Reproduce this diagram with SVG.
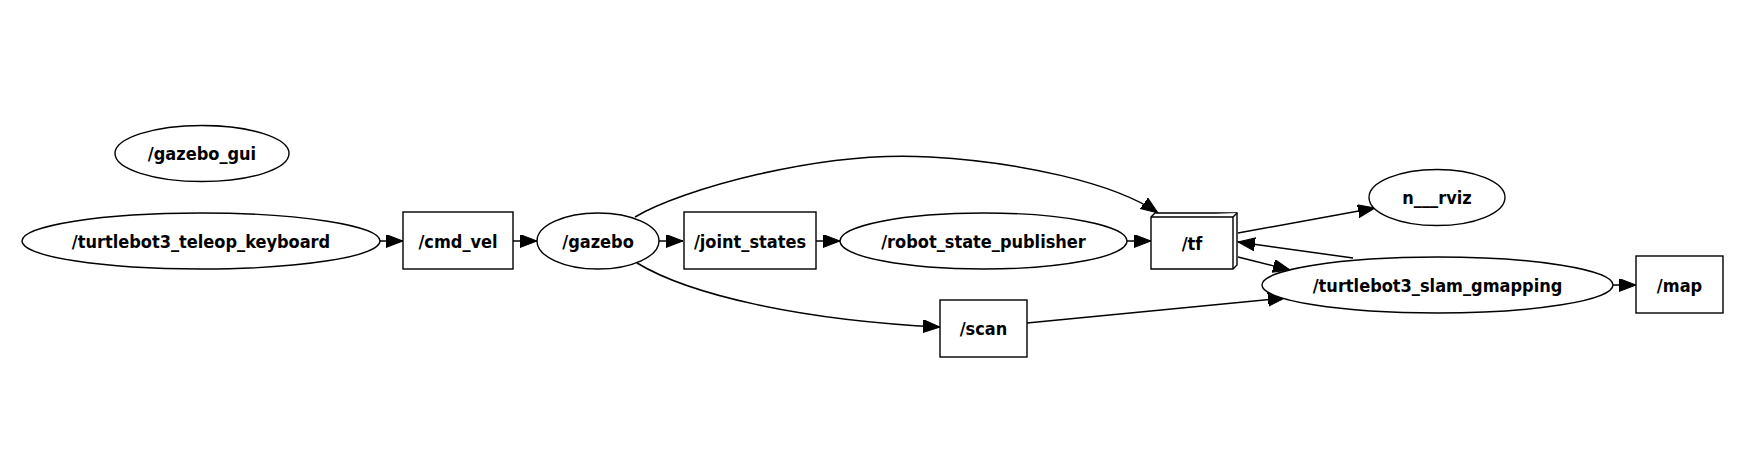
<svg xmlns="http://www.w3.org/2000/svg" width="1753" height="474" viewBox="0 0 1753 474">
<defs>
<style>
.n ellipse, .n rect, .n path { fill: #ffffff; stroke: #000000; stroke-width: 1.4; }
.n text { font-family: "DejaVu Sans", "Liberation Sans", sans-serif; font-weight: bold; font-stretch: condensed; font-size: 18px; text-anchor: middle; fill: #000000; }
.e path, .e line { fill: none; stroke: #000000; stroke-width: 1.5; marker-end: url(#ah); }
</style>
<marker id="ah" markerUnits="userSpaceOnUse" markerWidth="18" markerHeight="14" refX="17" refY="6.5" orient="auto" viewBox="0 0 18 14">
<path d="M0,0 L17,6.5 L0,13 z" fill="#000000" stroke="#000000" stroke-width="1"/>
</marker>
</defs>
<rect x="0" y="0" width="1753" height="474" fill="#ffffff"/>
<g id="edges" class="e">
<line x1="380" y1="241" x2="403" y2="241"/>
<line x1="513" y1="241" x2="537" y2="241"/>
<line x1="659" y1="241" x2="683" y2="241"/>
<line x1="816" y1="241" x2="840" y2="241"/>
<line x1="1127" y1="241" x2="1151" y2="241"/>
<path d="M635,217 C680,190 820,150 930,157 C1020,162 1115,183 1158,213"/>
<path d="M637,263 C690,295 800,320 940,327"/>
<line x1="1027" y1="323" x2="1285" y2="298"/>
<line x1="1238" y1="233" x2="1375" y2="208"/>
<line x1="1353" y1="258" x2="1238" y2="242"/>
<line x1="1238" y1="257" x2="1290" y2="270"/>
<line x1="1613" y1="285" x2="1636" y2="285"/>
</g>
<g id="gazebo_gui" class="n">
<ellipse cx="202" cy="153.5" rx="87" ry="28"/>
<text x="202" y="160">/gazebo_gui</text>
</g>
<g id="teleop" class="n">
<ellipse cx="201" cy="241" rx="179" ry="28"/>
<text x="201" y="248">/turtlebot3_teleop_keyboard</text>
</g>
<g id="cmd_vel" class="n">
<rect x="403" y="212" width="110" height="57"/>
<text x="458" y="248">/cmd_vel</text>
</g>
<g id="gazebo" class="n">
<ellipse cx="598" cy="241" rx="61" ry="28"/>
<text x="598" y="248">/gazebo</text>
</g>
<g id="joint_states" class="n">
<rect x="684" y="212" width="132" height="57"/>
<text x="750" y="248">/joint_states</text>
</g>
<g id="robot_state_publisher" class="n">
<ellipse cx="983.5" cy="241" rx="143.5" ry="28"/>
<text x="983.5" y="248">/robot_state_publisher</text>
</g>
<g id="tf" class="n">
<path d="M1151,217 L1155,213 L1237,213 L1237,265 L1233,269 L1151,269 Z"/>
<path d="M1151,217 L1233,217 L1237,213 M1233,217 L1233,269" fill="none"/>
<text x="1192" y="250">/tf</text>
</g>
<g id="scan" class="n">
<rect x="940" y="300" width="87" height="57"/>
<text x="983.5" y="335">/scan</text>
</g>
<g id="rviz" class="n">
<ellipse cx="1437" cy="197.5" rx="68" ry="28"/>
<text x="1437" y="204">n___rviz</text>
</g>
<g id="slam_gmapping" class="n">
<ellipse cx="1437.5" cy="285" rx="175.5" ry="28"/>
<text x="1437.5" y="292">/turtlebot3_slam_gmapping</text>
</g>
<g id="map" class="n">
<rect x="1636" y="256" width="87" height="57"/>
<text x="1679.5" y="292">/map</text>
</g>
</svg>
